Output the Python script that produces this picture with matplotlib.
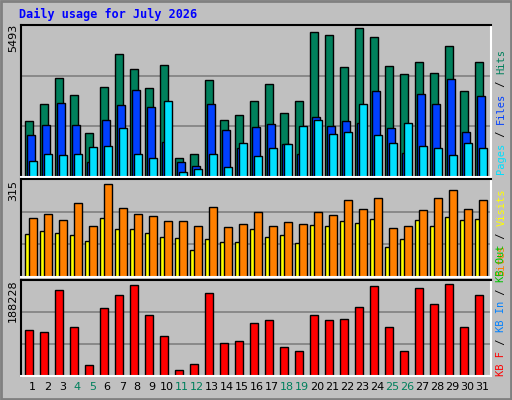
import matplotlib
matplotlib.use("Agg")
import matplotlib.pyplot as plt
import numpy as np

days = list(range(1, 32))
hits = [2025, 2647, 3562, 2977, 1586, 3270, 4453, 3892, 3233, 4039, 671, 818, 3490, 2062, 2245, 2758,
        3343, 2318, 2758, 5246, 5136, 3965, 5392, 5063, 4002, 3709, 4148, 3746, 4733, 3124, 4148]
files = [1513, 1879, 2684, 1879, 525, 2062, 2611, 3135, 2538, 1257, 525, 415, 2647, 1696, 1049, 1806,
         1916, 1184, 818, 2172, 1843, 2025, 1952, 3124, 1769, 854, 3014, 2647, 3526, 1623, 2941]
pages = [562, 818, 781, 818, 1074, 1110, 1769, 818, 671, 2758, 195, 305, 818, 378, 1220, 744,
         1037, 1184, 1843, 2062, 1550, 1623, 2647, 1513, 1220, 1952, 1110, 1037, 781, 1220, 1037]
visits = [137, 147, 140, 134, 117, 189, 153, 153, 143, 130, 124, 88, 121, 114, 114, 153,
          127, 134, 108, 166, 163, 179, 173, 186, 98, 121, 182, 163, 192, 182, 186]
sites = [189, 202, 182, 238, 163, 300, 222, 202, 196, 179, 179, 163, 225, 160, 169, 209,
         163, 176, 169, 209, 199, 248, 218, 254, 156, 163, 215, 254, 280, 218, 248]
kbytes = [90804, 86856, 167790, 96726, 21714, 134232, 157920, 177660, 120414, 78960, 11844, 23688,
          161868, 65142, 69090, 104622, 110544, 57246, 49350, 120414, 110544, 112518, 136206,
          175686, 96726, 49350, 171738, 142128, 179634, 96726, 157920]
weekend = [4, 5, 11, 12, 18, 19, 25, 26]
max_hits, max_sites, max_kb = 5493, 315, 188228

BG = "#c0c0c0"
fig = plt.figure(figsize=(5.12, 4.0), dpi=100, facecolor=BG)
mono = "DejaVu Sans Mono"
x = np.array(days)
W = 0.49

def mkax(b, h):
    ax = fig.add_axes([0.0404, b, 0.918, h], facecolor=BG)
    ax.set_xlim(0.18, 31.51)
    ax.set_xticks([])
    ax.set_yticks([])
    for s in ["left", "top"]:
        ax.spines[s].set_color("black")
    for s in ["right", "bottom"]:
        ax.spines[s].set_color("white")
    for sp in ax.spines.values():
        sp.set_linewidth(1.5)
    return ax

kw = dict(edgecolor="black", linewidth=1)
a1 = mkax(0.5575, 0.38)
a1.set_ylim(0, max_hits)
for g in (max_hits / 3, 2 * max_hits / 3):
    a1.axhline(g, color="#808080", lw=1.2, zorder=0)
a1.bar(x - 0.27, hits, W, color="#00805c", **kw)
a1.bar(x - 0.13, files, W, color="#0040ff", **kw)
a1.bar(x, pages, W, color="#00e0ff", **kw)

a2 = mkax(0.3075, 0.245)
a2.set_ylim(0, max_sites)
for g in (105, 210):
    a2.axhline(g, color="#808080", lw=1.2, zorder=0)
a2.bar(x - 0.27, visits, W, color="#ffff00", **kw)
a2.bar(x, sites, W, color="#ff8000", **kw)

a3 = mkax(0.06, 0.24)
a3.set_ylim(0, max_kb)
for g in (max_kb / 3, 2 * max_kb / 3):
    a3.axhline(g, color="#808080", lw=1.2, zorder=0)
a3.bar(x - 0.27, kbytes, W, color="#ff0000", **kw)

for d in days:
    a3.text(d - 0.05, -0.06, str(d), transform=a3.get_xaxis_transform(), ha="center", va="top",
            fontsize=8, color="#00805c" if d in weekend else "black", family="DejaVu Sans")

fig.text(0.037, 0.965, "Daily usage for July 2026", color="#0000ff", fontsize=8.5,
         fontweight="bold", family=mono, va="center")
fig.text(0.025, 0.94, str(max_hits), rotation=90, fontsize=8, ha="center", va="top", family="DejaVu Sans")
fig.text(0.025, 0.55, str(max_sites), rotation=90, fontsize=8, ha="center", va="top", family="DejaVu Sans")
fig.text(0.025, 0.302, str(max_kb), rotation=90, fontsize=8, ha="center", va="top", family="DejaVu Sans")

renderer = fig.canvas.get_renderer()

def stack(parts, y0, xx=0.979):
    y = y0
    for txt, col in parts:
        t = fig.text(xx, y, txt, rotation=90, fontsize=7.5, color=col, family=mono,
                     ha="center", va="bottom")
        bb = t.get_window_extent(renderer)
        y += bb.height / fig.bbox.height
stack([("Pages", "#00e0ff"), (" / ", "black"), ("Files", "#0040ff"), (" / ", "black"), ("Hits", "#00805c")], 0.565)
stack([("Sites", "#ff8000"), (" / ", "black"), ("Visits", "#ffff00")], 0.31)
stack([("KB F", "#ff0000"), (" / ", "black"), ("KB In", "#0080ff"), (" / ", "black"), ("KB Out", "#00c000")], 0.06)

fig.add_artist(plt.Rectangle((0.002, 0.003), 0.996, 0.994, transform=fig.transFigure,
                             fill=False, edgecolor="#808080", lw=2))
fig.savefig("out.png", dpi=100, facecolor=BG)
